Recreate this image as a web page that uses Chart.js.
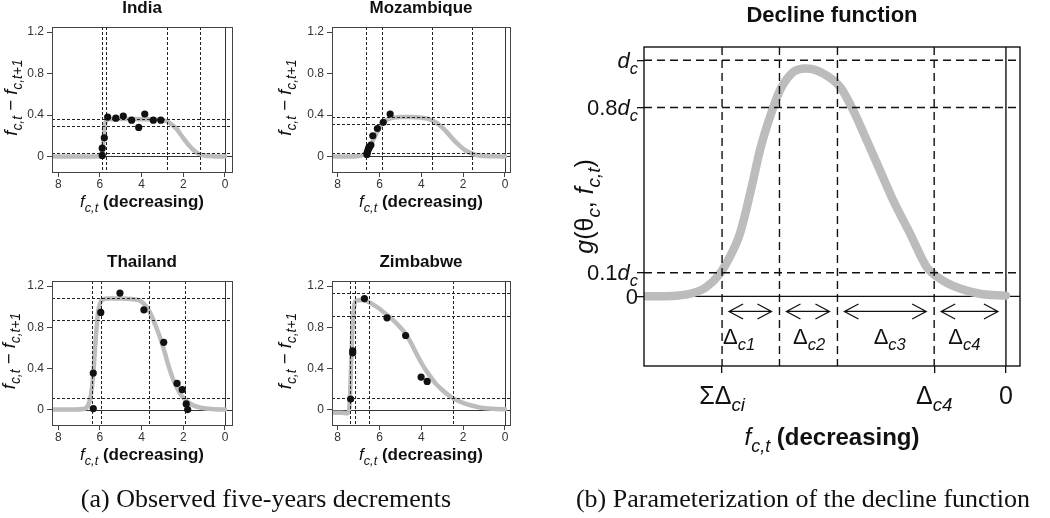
<!DOCTYPE html>
<html>
<head>
<meta charset="utf-8">
<script src="https://cdn.jsdelivr.net/npm/chart.js@4.4.0/dist/chart.umd.min.js"></script>
<style>
    body { margin: 0; background: #fff; width: 1050px; height: 518px; overflow: hidden; position: relative; }
    canvas { position: absolute; left: 0; top: 0; }
    .cap { position: absolute; top: 486px; font-family: 'Liberation Serif', 'Times New Roman', serif; font-size: 26px; line-height: 26px; color: #111; white-space: nowrap; transform: translateX(-50%); }
</style>
</head>
<body>
<canvas id="c-india" width="1050" height="518"></canvas>
<canvas id="c-mozambique" width="1050" height="518"></canvas>
<canvas id="c-thailand" width="1050" height="518"></canvas>
<canvas id="c-zimbabwe" width="1050" height="518"></canvas>
<canvas id="c-decline" width="1050" height="518"></canvas>
<div class="cap" style="left:266px">(a) Observed five-years decrements</div>
<div class="cap" style="left:803px">(b) Parameterization of the decline function</div>

<script>
// ---- data ----
const xTicksSmall = [8, 6, 4, 2, 0]
const yTicksSmall = [0, 0.4, 0.8, 1.2]

const indiaObsX = [5.89, 5.89, 5.79, 5.63, 5.24, 4.88, 4.48, 4.14, 3.85, 3.44, 3.08]
const indiaObsY = [0.01, 0.08, 0.18, 0.38, 0.37, 0.39, 0.35, 0.28, 0.41, 0.35, 0.35]
const indiaFitX = [8.3, 7, 6.2, 5.95, 5.88, 5.82, 5.76, 5.7, 5.6, 5, 4, 3.4, 3.1, 2.8, 2.5, 2.3, 2.1, 1.9, 1.7, 1.5, 1.3, 1.0, 0.6, 0]
const indiaFitY = [0, 0, 0, 0.005, 0.05, 0.18, 0.3, 0.345, 0.36, 0.362, 0.36, 0.358, 0.352, 0.34, 0.3, 0.26, 0.205, 0.15, 0.1, 0.06, 0.03, 0.01, 0.003, 0]
const indiaVLines = [5.92, 5.71, 2.80, 1.20]
const indiaHLines = [0.365, 0.29, 0.036]

const mozObsX = [6.60, 6.58, 6.55, 6.52, 6.48, 6.41, 6.32, 6.10, 5.82, 5.49]
const mozObsY = [0.02, 0.04, 0.06, 0.08, 0.09, 0.11, 0.20, 0.27, 0.33, 0.41]
const mozFitX = [8.3, 7.5, 7.0, 6.8, 6.6, 6.4, 6.2, 6.0, 5.8, 5.6, 5.3, 5.0, 4.5, 4.0, 3.7, 3.4, 3.1, 2.8, 2.5, 2.2, 1.9, 1.6, 1.3, 1.0, 0.5, 0]
const mozFitY = [0, 0, 0.005, 0.015, 0.05, 0.12, 0.2, 0.28, 0.33, 0.36, 0.375, 0.38, 0.38, 0.375, 0.365, 0.34, 0.3, 0.24, 0.17, 0.11, 0.06, 0.03, 0.012, 0.005, 0.001, 0]
const mozVLines = [6.65, 5.88, 3.48, 1.59]
const mozHLines = [0.383, 0.31, 0.032]

const thaiObsX = [6.32, 6.32, 5.96, 5.04, 3.89, 2.94, 2.30, 2.05, 1.86, 1.79]
const thaiObsY = [0.355, 0.01, 0.944, 1.133, 0.97, 0.654, 0.254, 0.193, 0.055, 0.0]
const thaiFitX = [8.3, 7.2, 6.8, 6.6, 6.47, 6.38, 6.3, 6.2, 6.1, 6.0, 5.85, 5.6, 5.0, 4.5, 4.1, 3.9, 3.7, 3.5, 3.3, 3.1, 2.9, 2.7, 2.5, 2.3, 2.1, 1.9, 1.6, 1.3, 1.0, 0.5, 0]
const thaiFitY = [0, 0, 0.005, 0.03, 0.1, 0.22, 0.4, 0.7, 0.93, 1.03, 1.07, 1.08, 1.08, 1.075, 1.06, 1.03, 0.98, 0.9, 0.8, 0.69, 0.56, 0.42, 0.3, 0.21, 0.14, 0.095, 0.05, 0.025, 0.012, 0.003, 0]
const thaiVLines = [6.40, 5.96, 3.65, 1.92]
const thaiHLines = [1.085, 0.87, 0.113]

const zimObsX = [7.38, 7.28, 7.28, 6.72, 5.64, 4.75, 4.01, 3.72]
const zimObsY = [0.103, 0.57, 0.55, 1.079, 0.892, 0.72, 0.316, 0.274]
const zimFitX = [8.3, 7.8, 7.55, 7.47, 7.42, 7.37, 7.32, 7.26, 7.2, 7.1, 6.9, 6.6, 6.3, 6.0, 5.7, 5.4, 5.1, 4.8, 4.5, 4.2, 3.9, 3.6, 3.3, 3.0, 2.7, 2.4, 2.0, 1.6, 1.2, 0.8, 0.4, 0]
const zimFitY = [-0.03, -0.03, -0.035, -0.02, 0.08, 0.35, 0.65, 0.9, 1.02, 1.06, 1.065, 1.055, 1.02, 0.98, 0.93, 0.88, 0.82, 0.75, 0.65, 0.53, 0.42, 0.33, 0.25, 0.19, 0.14, 0.1, 0.065, 0.04, 0.02, 0.01, 0.005, 0.003]
const zimVLines = [7.41, 7.17, 6.48, 2.47]
const zimHLines = [1.137, 0.908, 0.116]

// decline function (b)
const declineX = [12.6, 11.47, 10.9, 10.43, 9.97, 9.62, 9.27, 8.86, 8.57, 8.22, 7.87, 7.41, 6.97, 6.37, 5.78, 5.32, 4.85, 4.39, 3.93, 3.34, 2.76, 2.30, 1.60, 0.91, 0]
const declineY = [0, 0.003, 0.014, 0.04, 0.096, 0.167, 0.265, 0.463, 0.619, 0.76, 0.873, 0.95, 0.965, 0.944, 0.887, 0.788, 0.661, 0.534, 0.407, 0.266, 0.124, 0.075, 0.033, 0.011, 0.003]
const declineBreaks = [9.89, 7.89, 5.87, 2.5, 0]
const declineLevels = [1, 0.8, 0.1]
const declineXTicks = [9.89, 2.5, 0]
const declineYTicks = [1, 0.8, 0.1, 0]
const deltaNames = ['c1', 'c2', 'c3', 'c4']
const deltaLabelX = [9.3, 6.86, 4.05, 1.45]


const SANS = '"Liberation Sans", Arial, Helvetica, sans-serif'
const GRAY = '#bcbcbc'
Chart.defaults.font.family = SANS
Chart.defaults.color = '#333'


// text with italic / bold / subscript pieces: [text, flags]
const richText = (ctx, parts, x, y, size, align) => {
    const fontFor = f => `${f.includes('i') ? 'italic ' : ''}${f.includes('b') ? 'bold ' : ''}${f.includes('s') ? size * 0.75 : size}px ${SANS}`
    let w = 0
    parts.forEach(([t, f]) => { ctx.font = fontFor(f); w += ctx.measureText(t).width })
    let cx = align === 'center' ? x - w / 2 : align === 'right' ? x - w : x
    ctx.textAlign = 'left'
    ctx.textBaseline = 'alphabetic'
    parts.forEach(([t, f]) => {
        ctx.font = fontFor(f)
        ctx.fillText(t, cx, f.includes('s') ? y + size * 0.28 : y)
        cx += ctx.measureText(t).width
    })
}

const seg = (ctx, x1, y1, x2, y2) => {
    ctx.beginPath()
    ctx.moveTo(x1, y1)
    ctx.lineTo(x2, y2)
    ctx.stroke()
}

const snap = v => Math.round(v) + 0.5

const xTitleParts = [['f', 'i'], ['c,t', 'is'], [' (decreasing)', 'b']]
const yTitleSmall = [['f', 'i'], ['c,t', 'is'], [' − ', ''], ['f', 'i'], ['c,t+1', 'is']]


// ---- small country panels ----
const smallDecor = (p) => ({
    id: 'decor',
    beforeDatasetsDraw(chart) {
        const { ctx, chartArea: a, scales: { x, y } } = chart
        ctx.save()
        ctx.strokeStyle = '#333'
        ctx.lineWidth = 1
        const x0 = snap(x.getPixelForValue(0)), y0 = snap(y.getPixelForValue(0))
        seg(ctx, x0, a.top, x0, a.bottom)
        seg(ctx, a.left, y0, a.right, y0)
        ctx.restore()
    },
    afterDatasetDraw(chart, args) {
        if (chart.data.datasets[args.index].label !== 'fit') return
        const { ctx, chartArea: a, scales: { x, y } } = chart
        ctx.save()
        ctx.strokeStyle = '#222'
        ctx.lineWidth = 1
        ctx.setLineDash([3, 2])
        p.vLines.forEach(v => { const px = snap(x.getPixelForValue(v)); seg(ctx, px, a.top, px, a.bottom) })
        p.hLines.forEach(v => { const py = snap(y.getPixelForValue(v)); seg(ctx, a.left, py, a.right, py) })
        ctx.restore()
    },
    afterDraw(chart) {
        const { ctx, chartArea: a } = chart
        ctx.save()
        ctx.strokeStyle = '#444'
        ctx.lineWidth = 1
        ctx.strokeRect(snap(a.left), snap(a.top), Math.round(a.width), Math.round(a.height))
        ctx.fillStyle = '#111'
        const cx = (a.left + a.right) / 2
        ctx.font = `bold 17px ${SANS}`
        ctx.textAlign = 'center'
        ctx.textBaseline = 'alphabetic'
        ctx.fillText(p.title, cx, a.top - 14)
        richText(ctx, xTitleParts, cx, a.bottom + 35, 17, 'center')
        ctx.translate(p.yTitleX, (a.top + a.bottom) / 2 - 2)
        ctx.rotate(-Math.PI / 2)
        richText(ctx, yTitleSmall, 0, 0, 18.5, 'center')
        ctx.restore()
    }
})

const smallPanel = (p) => {
    const a = p.area
    return new Chart(document.getElementById(p.id), {
        type: 'scatter',
        data: {
            datasets: [
                {
                    label: 'obs',
                    data: p.obsX.map((x, i) => ({ x, y: p.obsY[i] })),
                    pointRadius: 3.6,
                    pointBackgroundColor: '#111',
                    pointBorderWidth: 0
                },
                {
                    label: 'fit',
                    data: p.fitX.map((x, i) => ({ x, y: p.fitY[i] })),
                    showLine: true,
                    pointRadius: 0,
                    borderColor: GRAY,
                    borderWidth: 4.5,
                    borderCapStyle: 'round',
                    cubicInterpolationMode: 'monotone'
                }
            ]
        },
        options: {
            responsive: false,
            animation: false,
            devicePixelRatio: 1,
            events: [],
            layout: { padding: { left: a.left - 40, right: 1050 - a.right, top: a.top, bottom: 518 - a.bottom - 24 } },
            plugins: { legend: { display: false }, tooltip: { enabled: false } },
            scales: {
                x: {
                    type: 'linear',
                    reverse: true,
                    min: p.xMin,
                    max: p.xMax,
                    afterBuildTicks: s => { s.ticks = xTicksSmall.map(v => ({ value: v })) },
                    afterFit: s => { s.height = 24 },
                    grid: { drawOnChartArea: false, tickLength: 5, color: '#444' },
                    border: { display: false },
                    ticks: { font: { size: 12 }, color: '#333', padding: 0, maxRotation: 0, autoSkip: false, callback: v => String(v) }
                },
                y: {
                    type: 'linear',
                    min: -0.15,
                    max: 1.25,
                    afterBuildTicks: s => { s.ticks = yTicksSmall.map(v => ({ value: v })) },
                    afterFit: s => { s.width = 40 },
                    grid: { drawOnChartArea: false, tickLength: 5, color: '#444' },
                    border: { display: false },
                    ticks: { font: { size: 12 }, color: '#333', padding: 3, autoSkip: false, callback: v => String(v) }
                }
            }
        },
        plugins: [smallDecor(p)]
    })
}

smallPanel({ id: 'c-india', title: 'India', area: { left: 52, right: 232, top: 27, bottom: 172 }, xMin: -0.336, xMax: 8.3, yTitleX: 17,
    obsX: indiaObsX, obsY: indiaObsY, fitX: indiaFitX, fitY: indiaFitY, vLines: indiaVLines, hLines: indiaHLines })
smallPanel({ id: 'c-mozambique', title: 'Mozambique', area: { left: 332, right: 510, top: 27, bottom: 172 }, xMin: -0.24, xMax: 8.27, yTitleX: 291,
    obsX: mozObsX, obsY: mozObsY, fitX: mozFitX, fitY: mozFitY, vLines: mozVLines, hLines: mozHLines })
smallPanel({ id: 'c-thailand', title: 'Thailand', area: { left: 52, right: 232, top: 281, bottom: 425 }, xMin: -0.336, xMax: 8.3, yTitleX: 15,
    obsX: thaiObsX, obsY: thaiObsY, fitX: thaiFitX, fitY: thaiFitY, vLines: thaiVLines, hLines: thaiHLines })
smallPanel({ id: 'c-zimbabwe', title: 'Zimbabwe', area: { left: 332, right: 510, top: 281, bottom: 425 }, xMin: -0.24, xMax: 8.27, yTitleX: 291,
    obsX: zimObsX, obsY: zimObsY, fitX: zimFitX, fitY: zimFitY, vLines: zimVLines, hLines: zimHLines })


// ---- decline function panel ----
const declineXLabels = [[['ΣΔ', ''], ['ci', 'is']], [['Δ', ''], ['c4', 'is']], [['0', '']]]
const declineYLabels = [[['d', 'i'], ['c', 'is']], [['0.8', ''], ['d', 'i'], ['c', 'is']], [['0.1', ''], ['d', 'i'], ['c', 'is']], [['0', '']]]
const declineYTitle = [['g', 'i'], ['(θ', ''], ['c', 'is'], [', ', ''], ['f', 'i'], ['c,t', 'is'], [')', '']]
const arrowLevel = -0.064
const deltaLabelLevel = -0.2

const declineDecor = {
    id: 'declineDecor',
    beforeDatasetsDraw(chart) {
        const { ctx, chartArea: a, scales: { x, y } } = chart
        ctx.save()
        ctx.strokeStyle = '#111'
        ctx.lineWidth = 1.4
        const x0 = x.getPixelForValue(0), y0 = y.getPixelForValue(0)
        seg(ctx, x0, a.top, x0, a.bottom)
        seg(ctx, a.left, y0, a.right, y0)
        ctx.restore()
    },
    afterDatasetDraw(chart) {
        const { ctx, chartArea: a, scales: { x, y } } = chart
        ctx.save()
        ctx.strokeStyle = '#111'
        ctx.lineWidth = 1.4
        ctx.setLineDash([8, 5])
        declineBreaks.slice(0, 4).forEach(v => { const px = x.getPixelForValue(v); seg(ctx, px, a.top, px, a.bottom) })
        declineLevels.forEach(v => { const py = y.getPixelForValue(v); seg(ctx, a.left, py, a.right, py) })
        ctx.restore()
    },
    afterDraw(chart) {
        const { ctx, chartArea: a, scales: { x, y } } = chart
        ctx.save()
        ctx.strokeStyle = '#111'
        ctx.lineWidth = 1.4
        ctx.strokeRect(a.left, a.top, a.width, a.height)

        // arrows between the break points
        const ay = y.getPixelForValue(arrowLevel)
        ctx.lineWidth = 1.3
        for (let i = 0; i < 4; i++) {
            const xa = x.getPixelForValue(declineBreaks[i]) + 7
            const xb = x.getPixelForValue(declineBreaks[i + 1]) - 8
            ctx.beginPath()
            ctx.moveTo(xa, ay); ctx.lineTo(xb, ay)
            ctx.moveTo(xa + 14, ay - 7.5); ctx.lineTo(xa, ay); ctx.lineTo(xa + 14, ay + 7.5)
            ctx.moveTo(xb - 14, ay - 7.5); ctx.lineTo(xb, ay); ctx.lineTo(xb - 14, ay + 7.5)
            ctx.stroke()
        }

        ctx.fillStyle = '#111'
        const ly = y.getPixelForValue(deltaLabelLevel)
        deltaNames.forEach((n, i) => richText(ctx, [['Δ', ''], [n, 'is']], x.getPixelForValue(deltaLabelX[i]), ly, 22, 'center'))

        declineXTicks.forEach((v, i) => richText(ctx, declineXLabels[i], x.getPixelForValue(v), a.bottom + 38, 25, 'center'))
        declineYTicks.forEach((v, i) => richText(ctx, declineYLabels[i], a.left - 6, y.getPixelForValue(v) + 7.5, 22, 'right'))

        ctx.font = `bold 22px ${SANS}`
        ctx.textAlign = 'center'
        ctx.fillText('Decline function', (a.left + a.right) / 2, 22)
        richText(ctx, xTitleParts, (a.left + a.right) / 2, 445, 24, 'center')

        ctx.translate(593, (a.top + a.bottom) / 2)
        ctx.rotate(-Math.PI / 2)
        richText(ctx, declineYTitle, 0, 0, 25, 'center')
        ctx.restore()
    }
}

new Chart(document.getElementById('c-decline'), {
    type: 'scatter',
    data: {
        datasets: [{
            label: 'decline',
            data: declineX.map((x, i) => ({ x, y: declineY[i] })),
            showLine: true,
            pointRadius: 0,
            borderColor: GRAY,
            borderWidth: 8.5,
            borderCapStyle: 'round',
            cubicInterpolationMode: 'monotone'
        }]
    },
    options: {
        responsive: false,
        animation: false,
        devicePixelRatio: 1,
        events: [],
        layout: { padding: { left: 644 - 40, right: 1050 - 1020, top: 47, bottom: 518 - 366 - 30 } },
        plugins: { legend: { display: false }, tooltip: { enabled: false } },
        scales: {
            x: {
                type: 'linear',
                reverse: true,
                min: -0.49,
                max: 12.61,
                afterBuildTicks: s => { s.ticks = declineXTicks.map(v => ({ value: v })) },
                afterFit: s => { s.height = 30 },
                grid: { drawOnChartArea: false, tickLength: 7, color: '#111', lineWidth: 1.3 },
                border: { display: false },
                ticks: { display: false }
            },
            y: {
                type: 'linear',
                min: -0.295,
                max: 1.056,
                afterBuildTicks: s => { s.ticks = declineYTicks.map(v => ({ value: v })) },
                afterFit: s => { s.width = 40 },
                grid: { drawOnChartArea: false, tickLength: 7, color: '#111', lineWidth: 1.3 },
                border: { display: false },
                ticks: { display: false }
            }
        }
    },
    plugins: [declineDecor]
})
</script>
</body>
</html>
